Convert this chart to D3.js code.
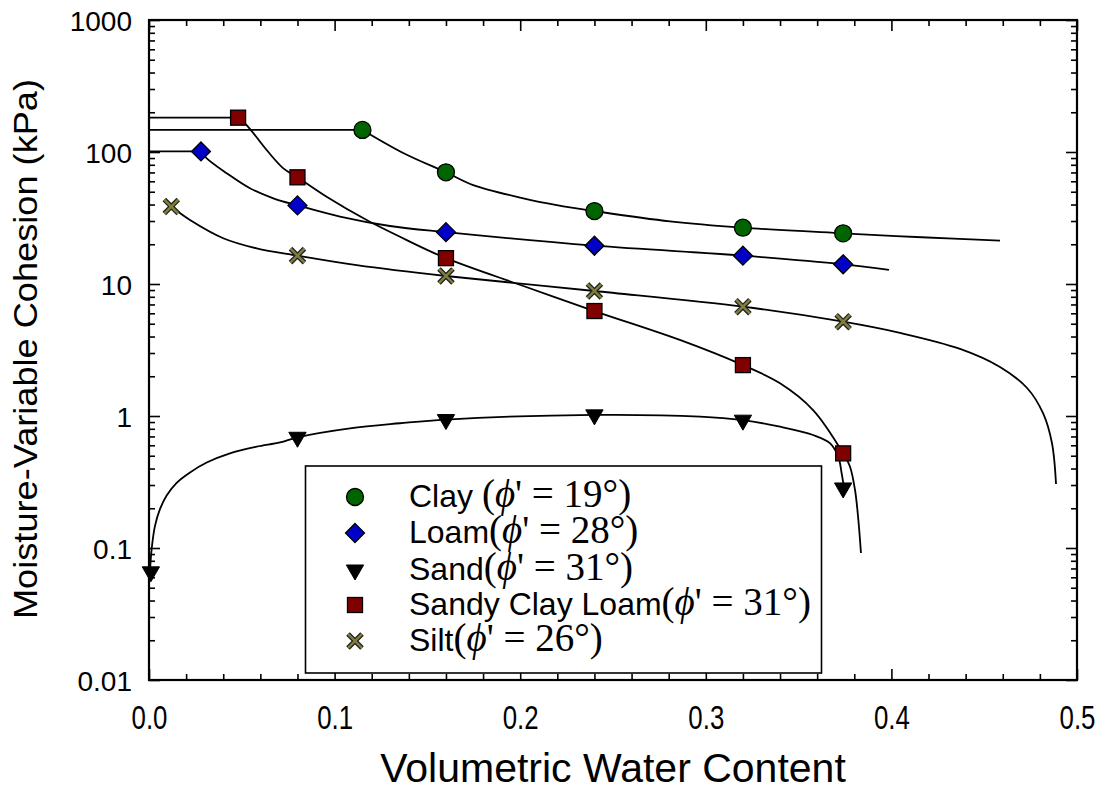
<!DOCTYPE html>
<html><head><meta charset="utf-8">
<script src="https://cdn.jsdelivr.net/npm/d3@7"></script>
<style>
body{margin:0;background:#fff}
svg{display:block}
text{white-space:pre}
</style>
</head><body>
<svg id="c" width="1106" height="790"></svg>
<script>
// ---------------- data ----------------
const xTickValues = [0, 0.1, 0.2, 0.3, 0.4, 0.5];
const yTickValues = [0.01, 0.1, 1, 10, 100, 1000];
const yTickLabels = ["0.01", "0.1", "1", "10", "100", "1000"];

const seriesNames = ["Clay", "Loam", "Sand", "Sandy Clay Loam", "Silt"];
const seriesPhi = ["19", "28", "31", "31", "26"];

// observed points (markers)
const clayObsX = [0.115, 0.16, 0.24, 0.32, 0.374];
const clayObsY = [147, 70.2, 35.7, 26.7, 24.2];
const loamObsX = [0.028, 0.08, 0.16, 0.24, 0.32, 0.374];
const loamObsY = [101, 39.4, 24.7, 19.5, 16.4, 14.1];
const sandObsX = [0.001, 0.08, 0.16, 0.24, 0.32, 0.374];
const sandObsY = [0.066, 0.69, 0.94, 1.02, 0.93, 0.285];
const sclObsX = [0.048, 0.08, 0.16, 0.24, 0.32, 0.374];
const sclObsY = [182, 64.3, 15.7, 6.24, 2.43, 0.521];
const siltObsX = [0.012, 0.08, 0.16, 0.24, 0.32, 0.374];
const siltObsY = [38.6, 16.4, 11.5, 8.85, 6.73, 5.18];

// fitted curves
const clayFitX = [0.115, 0.1378, 0.16, 0.1747, 0.2017, 0.2197, 0.24, 0.2807, 0.32, 0.374, 0.4163, 0.4585];
const clayFitY = [147, 97, 70.2, 56.2, 44.6, 39.6, 35.7, 29.8, 26.7, 24.2, 22.6, 21.3];
const loamFitX = [0.028, 0.0311, 0.0419, 0.0544, 0.067, 0.08, 0.1029, 0.1298, 0.16, 0.24, 0.32, 0.374, 0.3987];
const loamFitY = [101, 89.6, 69, 53.1, 44.6, 39.4, 32.4, 27.5, 24.7, 19.5, 16.4, 14.1, 12.8];
const sandFitX = [0.0005, 0.00145, 0.00323, 0.0059, 0.0095, 0.0149, 0.0221, 0.0311, 0.0436, 0.058, 0.0706, 0.08, 0.1083, 0.1352, 0.16, 0.24, 0.2969, 0.32, 0.34, 0.3578, 0.367, 0.3714, 0.3732, 0.3745];
const sandFitY = [0.066, 0.099, 0.147, 0.197, 0.25, 0.312, 0.374, 0.444, 0.521, 0.585, 0.631, 0.69, 0.807, 0.881, 0.94, 1.02, 0.99, 0.93, 0.83, 0.718, 0.62, 0.49, 0.368, 0.285];
const sclFitX = [0.048, 0.0526, 0.0634, 0.0724, 0.08, 0.0957, 0.1173, 0.1389, 0.16, 0.2017, 0.24, 0.286, 0.32, 0.34, 0.3578, 0.374, 0.3777, 0.3804, 0.3822, 0.3836];
const sclFitY = [182, 160, 103.5, 75.2, 64.3, 45.8, 30.5, 21.5, 15.7, 9.66, 6.24, 3.77, 2.43, 1.77, 1.11, 0.521, 0.413, 0.275, 0.163, 0.0916];
const siltFitX = [0.012, 0.0221, 0.04, 0.058, 0.08, 0.1119, 0.16, 0.24, 0.32, 0.374, 0.4046, 0.437, 0.4585, 0.4731, 0.4817, 0.4865, 0.4887];
const siltFitY = [38.6, 30.5, 22.2, 18.6, 16.4, 13.9, 11.5, 8.85, 6.73, 5.18, 4.26, 3.22, 2.35, 1.63, 1.05, 0.624, 0.305];

// constant-cohesion plateau start (x) for series that have one
const plateauStart = [0, 0, null, 0, null];

// ---------------- chart ----------------
const svg = d3.select("#c");
const m = {l: 149, r: 1077, t: 20, b: 680};
const x = d3.scaleLinear().domain([0, 0.5]).range([m.l, m.r]);
const y = d3.scaleLog().domain([0.01, 1000]).range([m.b, m.t]);

const SANS = "'Liberation Sans', Arial, Helvetica, sans-serif";
const SERIF = "'Liberation Serif', 'Times New Roman', 'DejaVu Serif', serif";

const styles = [
  {shape: "circle", fill: "#006400"},
  {shape: "diamond", fill: "#0000c8"},
  {shape: "triangle", fill: "#000000"},
  {shape: "square", fill: "#800000"},
  {shape: "x", fill: "#80803c"}
];
const obs = [[clayObsX, clayObsY], [loamObsX, loamObsY], [sandObsX, sandObsY], [sclObsX, sclObsY], [siltObsX, siltObsY]];
const fits = [[clayFitX, clayFitY], [loamFitX, loamFitY], [sandFitX, sandFitY], [sclFitX, sclFitY], [siltFitX, siltFitY]];

const series = seriesNames.map((n, i) => ({
  name: n, phi: seriesPhi[i], ...styles[i],
  obs: obs[i][0].map((v, k) => [v, obs[i][1][k]]),
  fit: fits[i][0].map((v, k) => [v, fits[i][1][k]]),
  plateau: plateauStart[i]
}));

// ticks
const minorX = d3.range(0, 0.5001, 0.02).filter(v => Math.abs(v * 10 - Math.round(v * 10)) > 1e-6);
const minorY = [];
for (let e = -2; e < 3; e++) for (let k = 2; k <= 9; k++) minorY.push(k * Math.pow(10, e));

function styleAxis(g) {
  g.select(".domain").remove();
  g.selectAll("line").attr("stroke", "#000").attr("stroke-width", 1.6);
}

// bottom
svg.append("g").attr("transform", `translate(0,${m.b})`)
  .call(d3.axisBottom(x).tickValues(minorX).tickSize(-6).tickFormat(""))
  .call(styleAxis);
const bx = svg.append("g").attr("transform", `translate(0,${m.b})`)
  .call(d3.axisBottom(x).tickValues(xTickValues).tickSize(-11).tickPadding(25).tickFormat(d3.format(".1f")))
  .call(styleAxis);
bx.selectAll("text").attr("font-family", SANS).attr("font-size", 34).attr("fill", "#000")
  .attr("transform", "scale(0.76,1)");
// top
svg.append("g").attr("transform", `translate(0,${m.t})`)
  .call(d3.axisTop(x).tickValues(minorX).tickSize(-6).tickFormat("")).call(styleAxis);
svg.append("g").attr("transform", `translate(0,${m.t})`)
  .call(d3.axisTop(x).tickValues(xTickValues).tickSize(-11).tickFormat("")).call(styleAxis);
// left
svg.append("g").attr("transform", `translate(${m.l},0)`)
  .call(d3.axisLeft(y).tickValues(minorY).tickSize(-6).tickFormat("")).call(styleAxis);
const ly = svg.append("g").attr("transform", `translate(${m.l},0)`)
  .call(d3.axisLeft(y).tickValues(yTickValues).tickSize(-11).tickPadding(17)
    .tickFormat((d, i) => yTickLabels[i]))
  .call(styleAxis);
ly.selectAll("text").attr("font-family", SANS).attr("font-size", 28).attr("fill", "#000").attr("dy", "0.39em");
// right
svg.append("g").attr("transform", `translate(${m.r},0)`)
  .call(d3.axisRight(y).tickValues(minorY).tickSize(-6).tickFormat("")).call(styleAxis);
svg.append("g").attr("transform", `translate(${m.r},0)`)
  .call(d3.axisRight(y).tickValues(yTickValues).tickSize(-11).tickFormat("")).call(styleAxis);

// frame
svg.append("rect").attr("x", m.l).attr("y", m.t).attr("width", m.r - m.l).attr("height", m.b - m.t)
  .attr("fill", "none").attr("stroke", "#000").attr("stroke-width", 2.2);

// curves
const line = d3.line().x(d => x(d[0])).y(d => y(d[1])).curve(d3.curveCatmullRom.alpha(0.5));
const gCurves = svg.append("g");
series.forEach(s => {
  gCurves.append("path").attr("d", line(s.fit)).attr("fill", "none").attr("stroke", "#000").attr("stroke-width", 1.8);
  if (s.plateau !== null) {
    gCurves.append("line")
      .attr("x1", x(s.plateau)).attr("x2", x(s.obs[0][0]))
      .attr("y1", y(s.obs[0][1])).attr("y2", y(s.obs[0][1]))
      .attr("stroke", "#000").attr("stroke-width", 1.8);
  }
});

// markers
function marker(g, s, cx, cy) {
  const gg = g.append("g").attr("transform", `translate(${cx},${cy})`);
  if (s.shape === "circle") {
    gg.append("circle").attr("r", 8.5).attr("fill", s.fill).attr("stroke", "#000").attr("stroke-width", 1.3);
  } else if (s.shape === "diamond") {
    const h = 9.5;
    gg.append("path").attr("d", `M0,${-h}L${h},0L0,${h}L${-h},0Z`).attr("fill", s.fill).attr("stroke", "#000").attr("stroke-width", 1.3);
  } else if (s.shape === "triangle") {
    gg.append("path").attr("d", d3.symbol(d3.symbolTriangle, 130)()).attr("transform", "rotate(180)")
      .attr("fill", s.fill).attr("stroke", "#000").attr("stroke-width", 1);
  } else if (s.shape === "square") {
    const h = 7.5;
    gg.append("rect").attr("x", -h).attr("y", -h).attr("width", 2 * h).attr("height", 2 * h)
      .attr("fill", s.fill).attr("stroke", "#000").attr("stroke-width", 1.3);
  } else if (s.shape === "x") {
    const h = 7;
    const d = `M${-h},${-h}L${h},${h}M${-h},${h}L${h},${-h}`;
    gg.append("path").attr("d", d).attr("stroke", "#222").attr("stroke-width", 5).attr("fill", "none");
    gg.append("path").attr("d", d).attr("stroke", s.fill).attr("stroke-width", 2.4).attr("fill", "none");
  }
}
const gMarks = svg.append("g");
series.forEach(s => s.obs.forEach(p => marker(gMarks, s, x(p[0]), y(p[1]))));

// legend
const lg = svg.append("g");
lg.append("rect").attr("x", 305.5).attr("y", 466).attr("width", 516).attr("height", 207)
  .attr("fill", "#fff").attr("stroke", "#000").attr("stroke-width", 1.6);
const rowY = [497, 533, 570, 605, 641];
series.forEach((s, i) => {
  marker(lg, s, 355, rowY[i]);
  const t = lg.append("text").attr("x", 409).attr("y", rowY[i] + 10).attr("fill", "#000");
  t.append("tspan").attr("font-family", SANS).attr("font-size", 32).text(s.name + (i === 0 ? " " : ""));
  t.append("tspan").attr("font-family", SERIF).attr("font-size", 39).text("(");
  t.append("tspan").attr("font-family", SERIF).attr("font-size", 39).attr("font-style", "italic").text("\u03D5");
  t.append("tspan").attr("font-family", SERIF).attr("font-size", 39).text("' = " + s.phi + "\u00B0)");
});

// axis titles
svg.append("text").attr("x", (m.l + m.r) / 2).attr("y", 782).attr("text-anchor", "middle")
  .attr("font-family", SANS).attr("font-size", 41).attr("fill", "#000").text("Volumetric Water Content");
svg.append("text").attr("transform", "translate(37,349) rotate(-90)").attr("text-anchor", "middle")
  .attr("font-family", SANS).attr("font-size", 33).attr("textLength", 540).attr("lengthAdjust", "spacingAndGlyphs")
  .attr("fill", "#000").text("Moisture-Variable Cohesion (kPa)");
</script>
</body></html>
